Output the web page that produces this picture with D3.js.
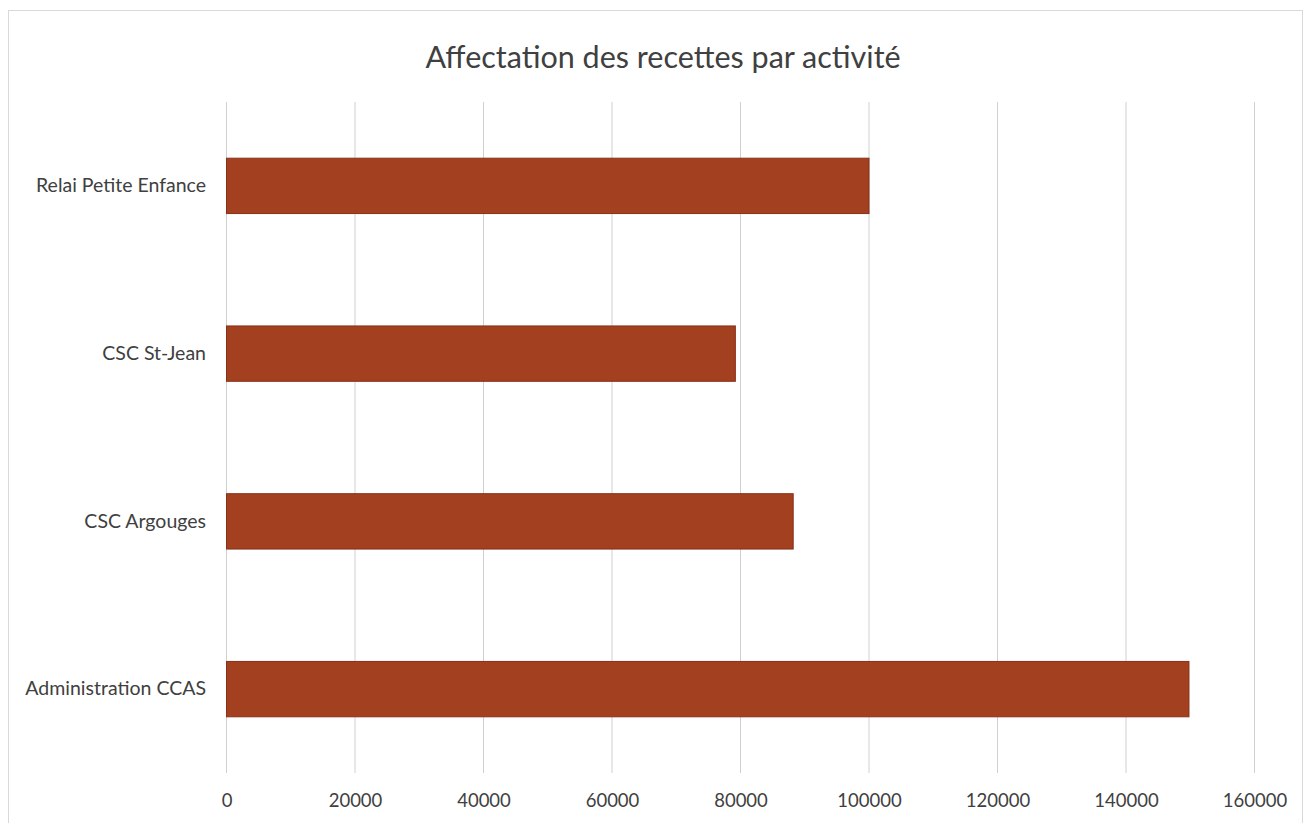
<!DOCTYPE html>
<html><head><meta charset="utf-8">
<script src="https://cdn.jsdelivr.net/npm/d3@7/dist/d3.min.js"></script>
<style>body{margin:0;background:#fff}svg{display:block}</style>
</head><body>
<svg id="c" width="1312" height="823"></svg>
<script>
const categories = ["Relai Petite Enfance", "CSC St-Jean", "CSC Argouges", "Administration CCAS"];
const values = [100000, 79200, 88200, 149800];
const tickValues = [0, 20000, 40000, 60000, 80000, 100000, 120000, 140000, 160000];
const title = "Affectation des recettes par activité";

const svg = d3.select("#c");
const font = "Lato, 'Open Sans', sans-serif";

svg.append("rect").attr("x", 8.5).attr("y", 10.5).attr("width", 1294).attr("height", 830)
  .attr("fill", "#fff").attr("stroke", "#d9d9d9");

const x = d3.scaleLinear().domain([0, 160000]).range([226.5, 1254.5]);
const y = d3.scaleBand().domain(categories).range([102, 773]).paddingInner(0.67).paddingOuter(0.335);

svg.append("g").selectAll("line").data(tickValues).join("line")
  .attr("x1", d => x(d)).attr("x2", d => x(d)).attr("y1", 102).attr("y2", 773)
  .attr("stroke", "#d0d0d0").attr("stroke-width", 1);

const xAxis = svg.append("g").attr("transform", "translate(0,773)")
  .call(d3.axisBottom(x).tickValues(tickValues).tickFormat(d3.format("d")).tickSize(0).tickPadding(21));
xAxis.select(".domain").remove();
xAxis.selectAll("text").attr("font-family", font).attr("font-size", 18.5).attr("fill", "#404040");

const yAxis = svg.append("g").attr("transform", "translate(206,0)")
  .call(d3.axisLeft(y).tickSize(0).tickPadding(0));
yAxis.select(".domain").remove();
yAxis.selectAll("text").attr("font-family", font).attr("font-size", 19.5).attr("fill", "#404040");

svg.append("g").selectAll("rect").data(categories).join("rect")
  .attr("x", x(0)).attr("y", d => y(d))
  .attr("width", (d, i) => x(values[i]) - x(0)).attr("height", y.bandwidth())
  .attr("fill", "#a2401f").attr("stroke", "#8a2f18").attr("stroke-width", 1);

svg.append("text").attr("x", 663).attr("y", 68).attr("text-anchor", "middle")
  .attr("font-family", font).attr("font-size", 30.5).attr("fill", "#404040").text(title);
</script>
</body></html>
